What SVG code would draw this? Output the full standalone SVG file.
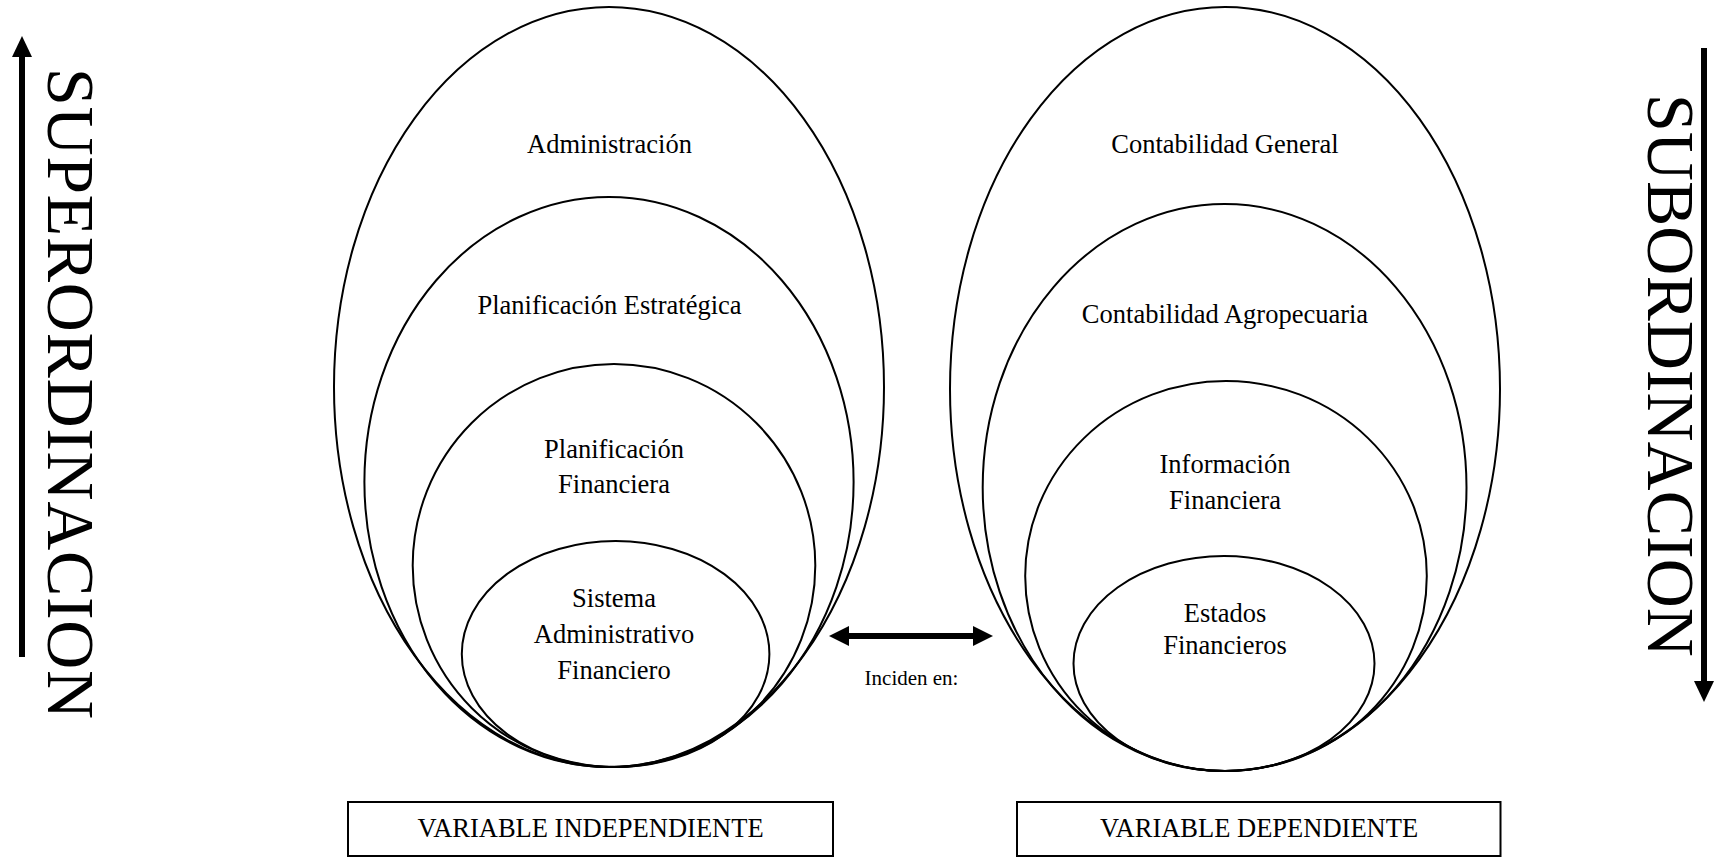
<svg xmlns="http://www.w3.org/2000/svg" width="1716" height="858" viewBox="0 0 1716 858">
<style>
.e{fill:none;stroke:#000;stroke-width:2}
.t{font-family:"Liberation Serif","Times New Roman",serif;font-size:26.5px;fill:#000;text-anchor:middle}
.big{font-family:"Liberation Serif","Times New Roman",serif;font-size:68px;fill:#000}
.box{fill:#fff;stroke:#000;stroke-width:2}
.shaft{stroke:#000;stroke-width:6;fill:none}
.head{fill:#000;stroke:none}
</style>
<rect width="1716" height="858" fill="#fff"/>
<g id="left-side">
  <g id="superordinacion">
    <line class="shaft" x1="22" y1="54" x2="22" y2="657"/>
    <polygon class="head" points="22,36 12,57 32,57"/>
    <text class="big" transform="translate(48,68) rotate(90)" textLength="651" lengthAdjust="spacing">SUPERORDINACION</text>
  </g>
</g>
<g id="subordinacion">
  <line class="shaft" x1="1704" y1="48" x2="1704" y2="684"/>
  <polygon class="head" points="1694,681 1714,681 1704,702"/>
  <text class="big" transform="translate(1648,94) rotate(90)">SUBORDINACION</text>
</g>
<g id="node-administracion">
  <ellipse class="e" cx="609" cy="387" rx="275" ry="380"/>
  <text class="t" x="609.5" y="153">Administración</text>
</g>
<g id="node-planificacion-estrategica">
  <ellipse class="e" cx="609" cy="482" rx="244.6" ry="285"/>
  <text class="t" x="609.5" y="314">Planificación Estratégica</text>
</g>
<g id="node-planificacion-financiera">
  <ellipse class="e" cx="614" cy="565.5" rx="201.3" ry="201.5"/>
  <text class="t" x="614" y="457.5">Planificación</text>
  <text class="t" x="614" y="493">Financiera</text>
</g>
<g id="node-sistema">
  <ellipse class="e" cx="615.6" cy="654" rx="153.8" ry="113"/>
  <text class="t" x="614" y="607">Sistema</text>
  <text class="t" x="614" y="643">Administrativo</text>
  <text class="t" x="614" y="678.5">Financiero</text>
</g>
<g id="node-contabilidad-general">
  <ellipse class="e" cx="1225" cy="389" rx="275" ry="382"/>
  <text class="t" x="1225" y="153">Contabilidad General</text>
</g>
<g id="node-contabilidad-agropecuaria">
  <ellipse class="e" cx="1224.6" cy="487.5" rx="241.9" ry="283.5"/>
  <text class="t" x="1225" y="323">Contabilidad Agropecuaria</text>
</g>
<g id="node-informacion-financiera">
  <ellipse class="e" cx="1226" cy="576" rx="200.8" ry="195"/>
  <text class="t" x="1225" y="473">Información</text>
  <text class="t" x="1225" y="508.5">Financiera</text>
</g>
<g id="node-estados-financieros">
  <ellipse class="e" cx="1224" cy="663.5" rx="150.5" ry="107.5"/>
  <text class="t" x="1225" y="621.5">Estados</text>
  <text class="t" x="1225" y="653.5">Financieros</text>
</g>
<g id="node-variable-independiente">
  <rect class="box" x="348" y="802" width="485" height="54"/>
  <text class="t" x="590.5" y="837">VARIABLE INDEPENDIENTE</text>
</g>
<g id="node-variable-dependiente">
  <rect class="box" x="1017" y="802" width="483.5" height="54"/>
  <text class="t" x="1259" y="837">VARIABLE DEPENDIENTE</text>
</g>
<g id="connectors">
  <line class="shaft" x1="846" y1="636" x2="976" y2="636"/>
  <polygon class="head" points="829,636 849,626 849,646"/>
  <polygon class="head" points="993,636 973,626 973,646"/>
  <text class="t" x="911.5" y="685" style="font-size:21px">Inciden en:</text>
</g>
</svg>
